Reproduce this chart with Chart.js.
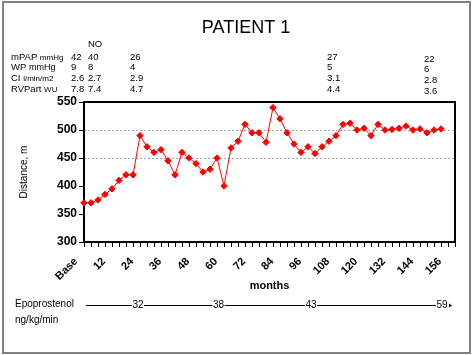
<!DOCTYPE html>
<html><head><meta charset="utf-8">
<script src="https://cdn.jsdelivr.net/npm/chart.js@4/dist/chart.umd.min.js"></script>
<style>html,body{margin:0;padding:0;background:#fff;}</style>
</head><body>
<canvas id="c" width="473" height="355"></canvas>
<script>
// ---- data ----
const months = ["Base","3","6","9","12","15","18","21","24","27","30","33","36","39","42","45","48","51","54","57","60","63","66","69","72","75","78","81","84","87","90","93","96","99","102","105","108","111","114","117","120","123","126","129","132","135","138","141","144","147","150","153","156","159"];
const distance = [370,370,375,385,395,410,420,420,490,470,460,465,445,420,460,450,440,425,430,450,400,468,480,510,495,495,478,540,520,495,475,460,470,458,470,480,490,510,512,500,503,490,510,500,501,503,507,500,502,495,500,502];
const yTickValues = [300,350,400,450,500,550];
const gridValues = [450,500];
const chartTitle = "PATIENT 1";
const rowNames = ["mPAP","WP","CI","RVPart"];
const rowUnits = ["mmHg","mmHg","l/min/m2","WU"];
const colBase = ["42","9","2.6","7.8"];
const colNO = ["40","8","2.7","7.4"];
const col3 = ["26","4","2.9","4.7"];
const col4 = ["27","5","3.1","4.4"];
const col5 = ["22","6","2.8","3.6"];
const noHeader = "NO";
const doseLabels = ["32","38","43","59"];
const doseTitle = ["Epoprostenol","ng/kg/min"];

const FONT = "'Liberation Sans', Arial, sans-serif";

const deco = {
  id: 'deco',
  beforeDraw(chart) {
    const ctx = chart.ctx;
    ctx.save();
    ctx.fillStyle = '#fff';
    ctx.fillRect(0, 0, chart.width, chart.height);
    ctx.restore();
  },
  beforeDatasetsDraw(chart) {
    const ctx = chart.ctx, a = chart.chartArea;
    ctx.save();
    ctx.strokeStyle = '#000';
    ctx.lineWidth = 2;
    ctx.strokeRect(a.left, a.top, a.right - a.left, a.bottom - a.top);
    ctx.restore();
  },
  afterDraw(chart) {
    const ctx = chart.ctx;
    ctx.save();
    // outer border
    ctx.strokeStyle = '#808080';
    ctx.lineWidth = 2;
    ctx.strokeRect(3, 2, 467, 351);
    // title
    ctx.fillStyle = '#000';
    ctx.textAlign = 'center';
    ctx.textBaseline = 'middle';
    ctx.font = '18px ' + FONT;
    ctx.fillText(chartTitle, 246, 28);
    // table
    ctx.textAlign = 'left';
    ctx.font = '9.5px ' + FONT;
    ctx.fillText(noHeader, 88, 44);
    const rowsY = [57, 67, 78, 89];
    const unitSizes = [8, 9, 8, 8];
    for (let i = 0; i < rowNames.length; i++) {
      const y = rowsY[i];
      ctx.font = '9.5px ' + FONT;
      ctx.fillText(rowNames[i], 11, y);
      const w = ctx.measureText(rowNames[i] + ' ').width;
      ctx.font = unitSizes[i] + 'px ' + FONT;
      ctx.fillText(rowUnits[i], 11 + w, y + 0.5);
      ctx.font = '9.5px ' + FONT;
      ctx.fillText(colBase[i], 71, y);
      ctx.fillText(colNO[i], 88, y);
      ctx.fillText(col3[i], 130, y);
      ctx.fillText(col4[i], 327, y);
      ctx.fillText(col5[i], 424, y + 2);
    }
    // epoprostenol
    ctx.font = '10px ' + FONT;
    ctx.fillText(doseTitle[0], 15, 304);
    ctx.fillText(doseTitle[1], 15, 320);
    const ly = 305;
    const doseX = [138, 218.5, 311, 442];
    ctx.strokeStyle = '#000';
    ctx.lineWidth = 1;
    let start = 86;
    ctx.beginPath();
    for (let i = 0; i < doseLabels.length; i++) {
      const tw = ctx.measureText(doseLabels[i]).width;
      ctx.moveTo(start, ly + 0.5);
      ctx.lineTo(doseX[i] - tw / 2 - 0.5, ly + 0.5);
      start = doseX[i] + tw / 2 + 0.5;
    }
    ctx.stroke();
    ctx.textAlign = 'center';
    for (let i = 0; i < doseLabels.length; i++) {
      ctx.fillText(doseLabels[i], doseX[i], ly);
    }
    // arrowhead
    ctx.beginPath();
    ctx.moveTo(449, ly - 1.5);
    ctx.lineTo(452, ly + 0.5);
    ctx.lineTo(449, ly + 2.5);
    ctx.closePath();
    ctx.fill();
    ctx.restore();
  }
};

new Chart(document.getElementById('c'), {
  type: 'line',
  data: {
    labels: months,
    datasets: [{
      data: distance,
      borderColor: '#FF0000',
      backgroundColor: '#FF0000',
      borderWidth: 1,
      pointStyle: 'rectRot',
      pointRadius: 3.2,
      pointBorderWidth: 1,
      pointBorderColor: '#FF0000',
      pointBackgroundColor: '#FF0000',
      tension: 0,
      fill: false
    }]
  },
  options: {
    responsive: false,
    animation: false,
    devicePixelRatio: 1,
    layout: { padding: { top: 102, right: 18, left: 0, bottom: 0 } },
    plugins: { legend: { display: false }, tooltip: { enabled: false }, title: { display: false } },
    scales: {
      x: {
        type: 'category',
        offset: false,
        afterFit(s) { s.height = 113; },
        grid: { display: true, drawOnChartArea: false, drawTicks: true, tickLength: 5, tickColor: '#000', tickWidth: 1 },
        border: { display: false },
        ticks: {
          autoSkip: false, minRotation: 45, maxRotation: 45, padding: 8, labelOffset: -8,
          color: '#000', font: { family: FONT, size: 11, weight: 'bold' },
          callback: (v, i) => (i % 4 === 0 ? months[i] : '')
        },
        title: { display: true, text: 'months', color: '#000', font: { family: FONT, size: 11, weight: 'bold' }, padding: { top: 0, bottom: 62 } }
      },
      y: {
        min: 300, max: 550,
        afterFit(s) { s.width = 84; },
        afterBuildTicks(s) { s.ticks = yTickValues.map(v => ({ value: v })); },
        grid: {
          color: c => (c.tick && gridValues.includes(c.tick.value)) ? '#A6A6A6' : 'rgba(0,0,0,0)',
          lineWidth: 1, drawTicks: true, tickLength: 5, tickColor: '#000', tickWidth: 1, tickBorderDash: []
        },
        border: { display: false, dash: [2, 2] },
        ticks: { padding: 2, color: '#000', font: { family: FONT, size: 12, weight: 'bold' } },
        title: { display: true, text: 'Distance, m', color: '#000', font: { family: FONT, size: 10 }, padding: { top: 18, bottom: 0 } }
      }
    }
  },
  plugins: [deco]
});
</script>
</body></html>
